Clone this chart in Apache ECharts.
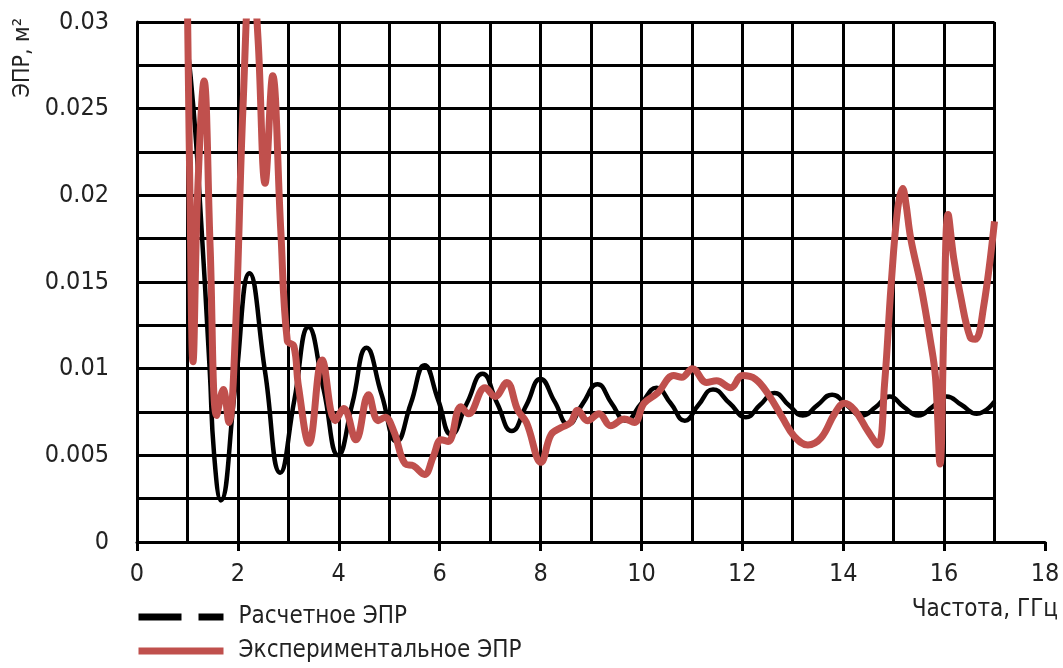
<!DOCTYPE html>
<html><head><meta charset="utf-8">
<script src="https://cdn.jsdelivr.net/npm/echarts@6/dist/echarts.min.js"></script>
<style>html,body{margin:0;padding:0;background:#fff}#c{width:1063px;height:668px}</style>
</head><body><div id="c"></div>
<script>
const FONT = '"DejaVu Sans Condensed","Liberation Sans Narrow",sans-serif';
const seriesNames = ['Расчетное ЭПР', 'Экспериментальное ЭПР'];
const xAxisName = 'Частота, ГГц';
const yAxisName = 'ЭПР, м²';

const calcX = [1.0,1.12,1.24,1.44,1.53,1.66,1.95,2.23,2.54,2.84,3.12,3.40,3.70,3.99,4.27,4.55,4.85,5.15,5.43,5.70,5.97,6.23,6.54,6.85,7.14,7.43,7.72,8.0,8.28,8.55,8.84,9.13,9.41,9.69,10.0,10.3,10.58,10.86,11.13,11.42,11.75,12.07,12.35,12.64,12.92,13.2,13.49,13.78,14.07,14.37,14.65,14.92,15.2,15.49,15.77,16.05,16.35,16.65,17.0];
const calcY = [0.0286,0.025,0.02,0.01,0.005,0.0024,0.009,0.0155,0.0098,0.0040,0.0082,0.0124,0.0088,0.0050,0.0080,0.0112,0.0085,0.0058,0.0080,0.0102,0.0082,0.0062,0.0080,0.0097,0.0080,0.0064,0.0079,0.0094,0.0081,0.0068,0.0080,0.0091,0.0080,0.0070,0.0080,0.0089,0.0080,0.0070,0.0079,0.0088,0.0080,0.0072,0.0079,0.0086,0.0079,0.0073,0.0079,0.0085,0.0079,0.0073,0.0078,0.0084,0.0078,0.0073,0.0078,0.0084,0.0079,0.0074,0.0081];

const expX = [1.0,1.05,1.11,1.2,1.33,1.45,1.58,1.71,1.82,1.95,2.1,2.27,2.4,2.54,2.69,2.85,2.98,3.11,3.2,3.41,3.67,3.93,4.1,4.34,4.59,4.78,4.92,5.09,5.32,5.48,5.7,5.87,6.03,6.17,6.42,6.57,6.9,7.1,7.33,7.55,7.72,8.01,8.21,8.41,8.6,8.74,8.93,9.16,9.39,9.66,9.86,10.05,10.32,10.64,10.8,11.01,11.29,11.49,11.77,12.0,12.26,12.52,12.79,13.03,13.3,13.56,13.83,14.02,14.23,14.49,14.69,14.82,14.95,15.08,15.18,15.24,15.34,15.54,15.73,15.83,15.92,16.0,16.08,16.19,16.32,16.52,16.62,16.78,17.0];
const expY = [0.031,0.02,0.0104,0.02,0.0266,0.017,0.0073,0.0088,0.0069,0.012,0.025,0.034,0.029,0.0207,0.0269,0.018,0.0116,0.0113,0.009,0.0057,0.0105,0.0070,0.0077,0.0059,0.0085,0.0070,0.0072,0.0064,0.0045,0.0044,0.0039,0.0049,0.0059,0.0058,0.0078,0.0074,0.0089,0.0084,0.0092,0.0076,0.0069,0.0046,0.0062,0.0066,0.0069,0.0076,0.0070,0.0074,0.0067,0.0071,0.0069,0.0080,0.0086,0.0096,0.0095,0.0100,0.0092,0.0093,0.0089,0.0096,0.0094,0.0085,0.0072,0.0061,0.0056,0.0060,0.0074,0.0080,0.0076,0.0064,0.0056,0.0091,0.0148,0.0192,0.0204,0.0196,0.0175,0.0148,0.0116,0.0095,0.0045,0.0129,0.0189,0.0164,0.0143,0.0118,0.0117,0.0135,0.0185];

const calcData = calcX.map((x, i) => [x, calcY[i]]);
const expData = expX.map((x, i) => [x, expY[i]]);

const TXT = '#222';
const chart = echarts.init(document.getElementById('c'), null, {renderer: 'canvas'});
chart.setOption({
  backgroundColor: '#fff',
  animation: false,
  grid: [
    {left: 137, top: 22, width: 857.5, height: 520, containLabel: false},
    {left: 137, top: 22, width: 908, height: 520, containLabel: false}
  ],
  xAxis: [
    {gridIndex: 0, type: 'value', min: 0, max: 17, interval: 1,
     axisLine: {show: false}, axisTick: {show: false}, axisLabel: {show: false},
     splitLine: {show: true, lineStyle: {color: '#000', width: 3}}},
    {gridIndex: 1, type: 'value', min: 0, max: 18, interval: 2,
     axisLine: {show: true, lineStyle: {color: '#000', width: 3}},
     axisTick: {show: true, length: 9, lineStyle: {color: '#000', width: 3}},
     axisLabel: {show: true, color: TXT, fontFamily: FONT, fontSize: 25, margin: 20},
     splitLine: {show: false}}
  ],
  yAxis: [
    {gridIndex: 0, type: 'value', min: 0, max: 0.03, interval: 0.0025,
     axisLine: {show: true, lineStyle: {color: '#000', width: 3}},
     axisTick: {show: false},
     axisLabel: {color: TXT, fontFamily: FONT, fontSize: 25, margin: 28,
       formatter: function (v) { const k = Math.round(v / 0.0025); return k % 2 === 0 ? String(+v.toFixed(4)) : ''; }},
     splitLine: {show: true, lineStyle: {color: '#000', width: 3}}},
    {gridIndex: 1, type: 'value', min: 0, max: 1, show: false}
  ],
  legend: {
    orient: 'vertical', left: 135, top: 602, height: 90, padding: 0, itemWidth: 85, itemHeight: 14, itemGap: 4,
    textStyle: {color: TXT, fontFamily: FONT, fontSize: 24, lineHeight: 30, padding: [0, 0, 0, 10]},
    data: [
      {name: seriesNames[0], itemStyle: {opacity: 0}, lineStyle: {type: [43, 17], width: 7, color: '#000'}},
      {name: seriesNames[1], itemStyle: {opacity: 0}, lineStyle: {width: 7, color: '#C0504D'}}
    ]
  },
  graphic: [
    {type: 'text', left: 12, top: 18, rotation: Math.PI / 2,
     style: {text: yAxisName, fill: TXT, font: '23px ' + FONT}},
    {type: 'text', right: 5, top: 598,
     style: {text: xAxisName, fill: TXT, font: '24px ' + FONT}}
  ],
  series: [
    {name: seriesNames[0], type: 'line', xAxisIndex: 0, yAxisIndex: 0, data: calcData,
     smooth: 0.5, symbol: 'none', lineStyle: {color: '#000', width: 4.5}, itemStyle: {color: '#000'}},
    {name: seriesNames[1], type: 'line', xAxisIndex: 0, yAxisIndex: 0, data: expData,
     smooth: 0.4, symbol: 'none', lineStyle: {color: '#C0504D', width: 7}, itemStyle: {color: '#C0504D'}}
  ]
});
</script></body></html>
